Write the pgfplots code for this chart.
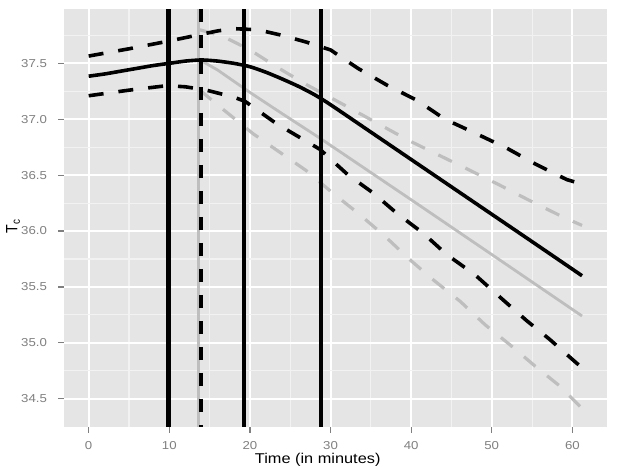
\documentclass[border=0pt]{standalone}
\usepackage{pgfplots}
\pgfplotsset{compat=1.18}
\usepackage{fontspec}
\setmainfont{Liberation Sans}
\definecolor{panelbg}{HTML}{E5E5E5}
\definecolor{minorgrid}{HTML}{F2F2F2}
\definecolor{tickgrey}{HTML}{7F7F7F}
\definecolor{curvegrey}{HTML}{BEBEBE}
\begin{document}
\begin{tikzpicture}
\path[use as bounding box] (0,0) rectangle (622bp,471bp);
\begin{axis}[
  at={(64bp,44bp)}, anchor=south west,
  scale only axis, width=542.7bp, height=418bp,
  xmin=-3.06, xmax=64.26, ymin=34.247, ymax=37.986,
  axis background/.style={fill=panelbg},
  axis line style={draw=none},
  xtick={0,10,...,60}, ytick={34.5,35,...,37.5},
  minor xtick={5,15,...,55}, minor ytick={34.75,35.25,...,37.75},
  grid=both,
  major grid style={white, line width=2bp},
  minor grid style={minorgrid, line width=1.1bp},
  tick align=outside, tick pos=left,
  major tick length=5.9bp, minor tick length=0pt,
  every major tick/.append style={tickgrey, line width=1.2bp},
  every minor tick/.append style={draw=none},
  /pgf/number format/assume math mode=true,
  ticklabel style={font=\fontsize{11.5bp}{12bp}\selectfont, text=tickgrey, xscale=1.15, inner sep=0pt},
  xticklabel style={anchor=base, yshift=-16.5bp},
  yticklabel style={anchor=east, xshift=-9.5bp, /pgf/number format/.cd, fixed, fixed zerofill, precision=1},
  xlabel={Time (in minutes)},
  ylabel={T\textsubscript{c}},
  every axis x label/.style={at={(axis description cs:0.4675,0)}, anchor=base, yshift=-36.5bp, font=\fontsize{14.2bp}{15bp}\selectfont, xscale=1.15, inner sep=0pt},
  every axis y label/.style={at={(axis description cs:0,0.48)}, anchor=center, xshift=-51bp, xscale=1.15, rotate=90, font=\fontsize{14.2bp}{15bp}\selectfont, inner sep=0pt},
  clip=true,
]
% grey (second) curves
\addplot[curvegrey, line width=2.8bp] coordinates {
(13.8,37.53) (16,37.44) (18,37.34) (20,37.24) (24,37.05) (28.7,36.83) (40,36.28) (50,35.79) (61.2,35.24)};
\addplot[curvegrey, line width=3.2bp, dash pattern=on 15bp off 15bp] coordinates {
(13.8,37.80) (16.7,37.74) (20,37.62) (23.5,37.46) (27,37.31) (32.4,37.1) (35.9,36.96) (39.7,36.81) (43.4,36.68) (47.1,36.55) (51,36.41) (54.5,36.28) (58.7,36.13) (61.2,36.05)};
\addplot[curvegrey, line width=3.2bp, dash pattern=on 15bp off 15bp] coordinates {
(13.8,37.26) (16.3,37.11) (20.4,36.87) (27,36.54) (30.1,36.35) (33.4,36.16) (36.5,35.97) (39.9,35.74) (42.8,35.56) (46.1,35.37) (49.2,35.16) (52.3,34.98) (55.4,34.79) (58.5,34.61) (61.1,34.42)};
% grey vertical line
\addplot[curvegrey, line width=3.2bp] coordinates {(13.65,34.247) (13.65,37.986)};
% black curves
\addplot[black, line width=3.6bp, smooth, tension=0.4] coordinates {
(0,37.385) (2,37.405) (4,37.43) (6,37.455) (8,37.48) (10,37.50) (12,37.52) (14,37.53) (16,37.52) (18,37.50) (20,37.47) (22,37.42) (24,37.36) (26,37.295) (28,37.22) (30,37.13) (35,36.885) (40,36.64) (45,36.395) (50,36.15) (55,35.905) (61.2,35.60)};
\addplot[black, line width=3.6bp, dash pattern=on 15bp off 15bp] coordinates {
(0,37.565) (5,37.63) (10,37.70) (14,37.76) (16,37.79) (18,37.81) (21,37.80) (24,37.75) (27,37.69) (30,37.62) (33.4,37.455) (37,37.305) (40.7,37.17) (44.2,37.0) (48.1,36.87) (51.9,36.74) (55.4,36.6) (59.3,36.46) (61.2,36.42)};
\addplot[black, line width=3.6bp, dash pattern=on 15bp off 15bp] coordinates {
(0,37.21) (5,37.26) (9.7,37.30) (12,37.29) (14.6,37.26) (17.9,37.2) (19.4,37.16) (23.3,36.96) (28.7,36.73) (32.2,36.5) (35.3,36.34) (38.2,36.16) (41.5,35.98) (44.4,35.79) (47.9,35.61) (51.0,35.41) (54.3,35.2) (57.2,35.03) (60.5,34.82) (61.2,34.78)};
% black vertical lines
\addplot[black, line width=4.4bp] coordinates {(9.9,34.247) (9.9,37.986)};
\addplot[black, line width=4.0bp, dash pattern=on 13bp off 13bp] coordinates {(13.95,37.986) (13.95,34.247)};
\addplot[black, line width=4.4bp] coordinates {(19.3,34.247) (19.3,37.986)};
\addplot[black, line width=4.4bp] coordinates {(28.8,34.247) (28.8,37.986)};
\end{axis}
\end{tikzpicture}
\end{document}
